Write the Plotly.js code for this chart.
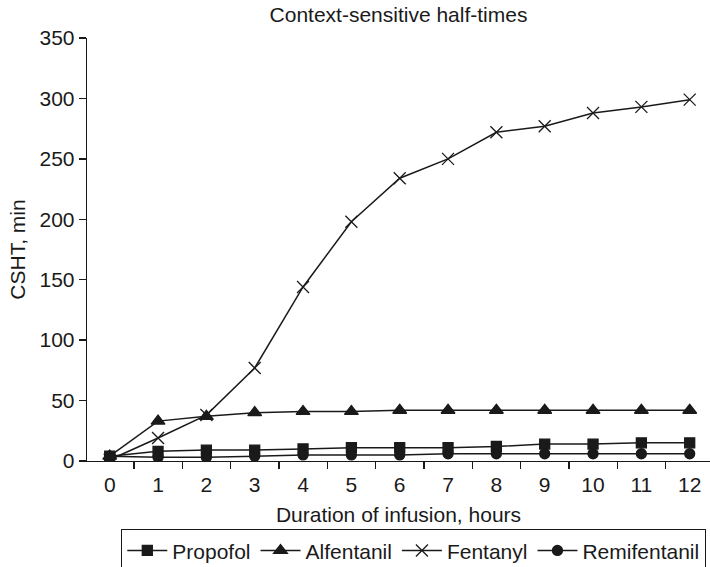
<!DOCTYPE html>
<html>
<head>
<meta charset="utf-8">
<script src="https://cdn.plot.ly/plotly-3.0.1.min.js"></script>
<style>html,body{margin:0;padding:0;background:#fff;}#chart{width:710px;height:567px;}</style>
</head>
<body>
<div id="chart"></div>
<script>
const hours = ["0","1","2","3","4","5","6","7","8","9","10","11","12"];
const propofol = [4, 8, 9, 9, 10, 11, 11, 11, 12, 14, 14, 15, 15];
const alfentanil = [4, 33, 37, 40, 41, 41, 42, 42, 42, 42, 42, 42, 42];
const fentanyl = [1, 19, 38, 77, 144, 198, 234, 250, 272, 277, 288, 293, 299];
const remifentanil = [4, 3, 3, 4, 5, 5, 5, 6, 6, 6, 6, 6, 6];
const yTicks = [0, 50, 100, 150, 200, 250, 300, 350];

const ink = "#1a1a1a";
const font = {family: "Liberation Sans, Arial, sans-serif", size: 21, color: ink};

function series(name, y, symbol, size) {
  return {
    type: "scatter", mode: "lines+markers", name: name,
    x: hours, y: y,
    line: {color: ink, width: 1.5},
    marker: {symbol: symbol, size: size, color: ink, line: {color: ink, width: 1.3}}
  };
}

const data = [
  series("Propofol", propofol, "square", 10),
  series("Alfentanil", alfentanil, "triangle-up", 12),
  series("Fentanyl", fentanyl, "x-thin-open", 12),
  series("Remifentanil", remifentanil, "circle", 10)
];

const layout = {
  width: 710, height: 567,
  margin: {l: 87, r: 0, t: 38, b: 106, pad: 0},
  paper_bgcolor: "#fff", plot_bgcolor: "#fff",
  font: font,
  showlegend: true,
  title: {text: "Context-sensitive half-times", font: font,
          x: 0.5, xref: "paper", y: 1 - 15/567, yref: "container", yanchor: "middle"},
  xaxis: {
    type: "category", categoryorder: "array", categoryarray: hours,
    range: [-0.47, 12.42],
    showline: true, linecolor: ink, linewidth: 1.3,
    showgrid: false, zeroline: false,
    ticks: "outside", ticklen: 7, tickcolor: ink, tickwidth: 1.3,
    tickson: "boundaries", ticklabelstandoff: 4,
    tickfont: font,
    title: {text: "Duration of infusion, hours", font: font, standoff: 12},
    automargin: false, fixedrange: true
  },
  yaxis: {
    range: [0, 350], tickvals: yTicks,
    showline: true, linecolor: ink, linewidth: 1.3,
    showgrid: false, zeroline: false,
    ticks: "outside", ticklen: 7, tickcolor: ink, tickwidth: 1.3,
    tickfont: font,
    title: {text: "CSHT, min", font: font, standoff: 8},
    automargin: false, fixedrange: true
  },
  legend: {
    orientation: "h", x: (121 - 87) / 623, xanchor: "left",
    y: 1 - 529 / 567, yref: "container", yanchor: "top",
    bordercolor: ink, borderwidth: 1.3, bgcolor: "#fff",
    font: font, itemwidth: 40
  }
};

Plotly.newPlot("chart", data, layout, {displayModeBar: false, staticPlot: true});
</script>
</body>
</html>
